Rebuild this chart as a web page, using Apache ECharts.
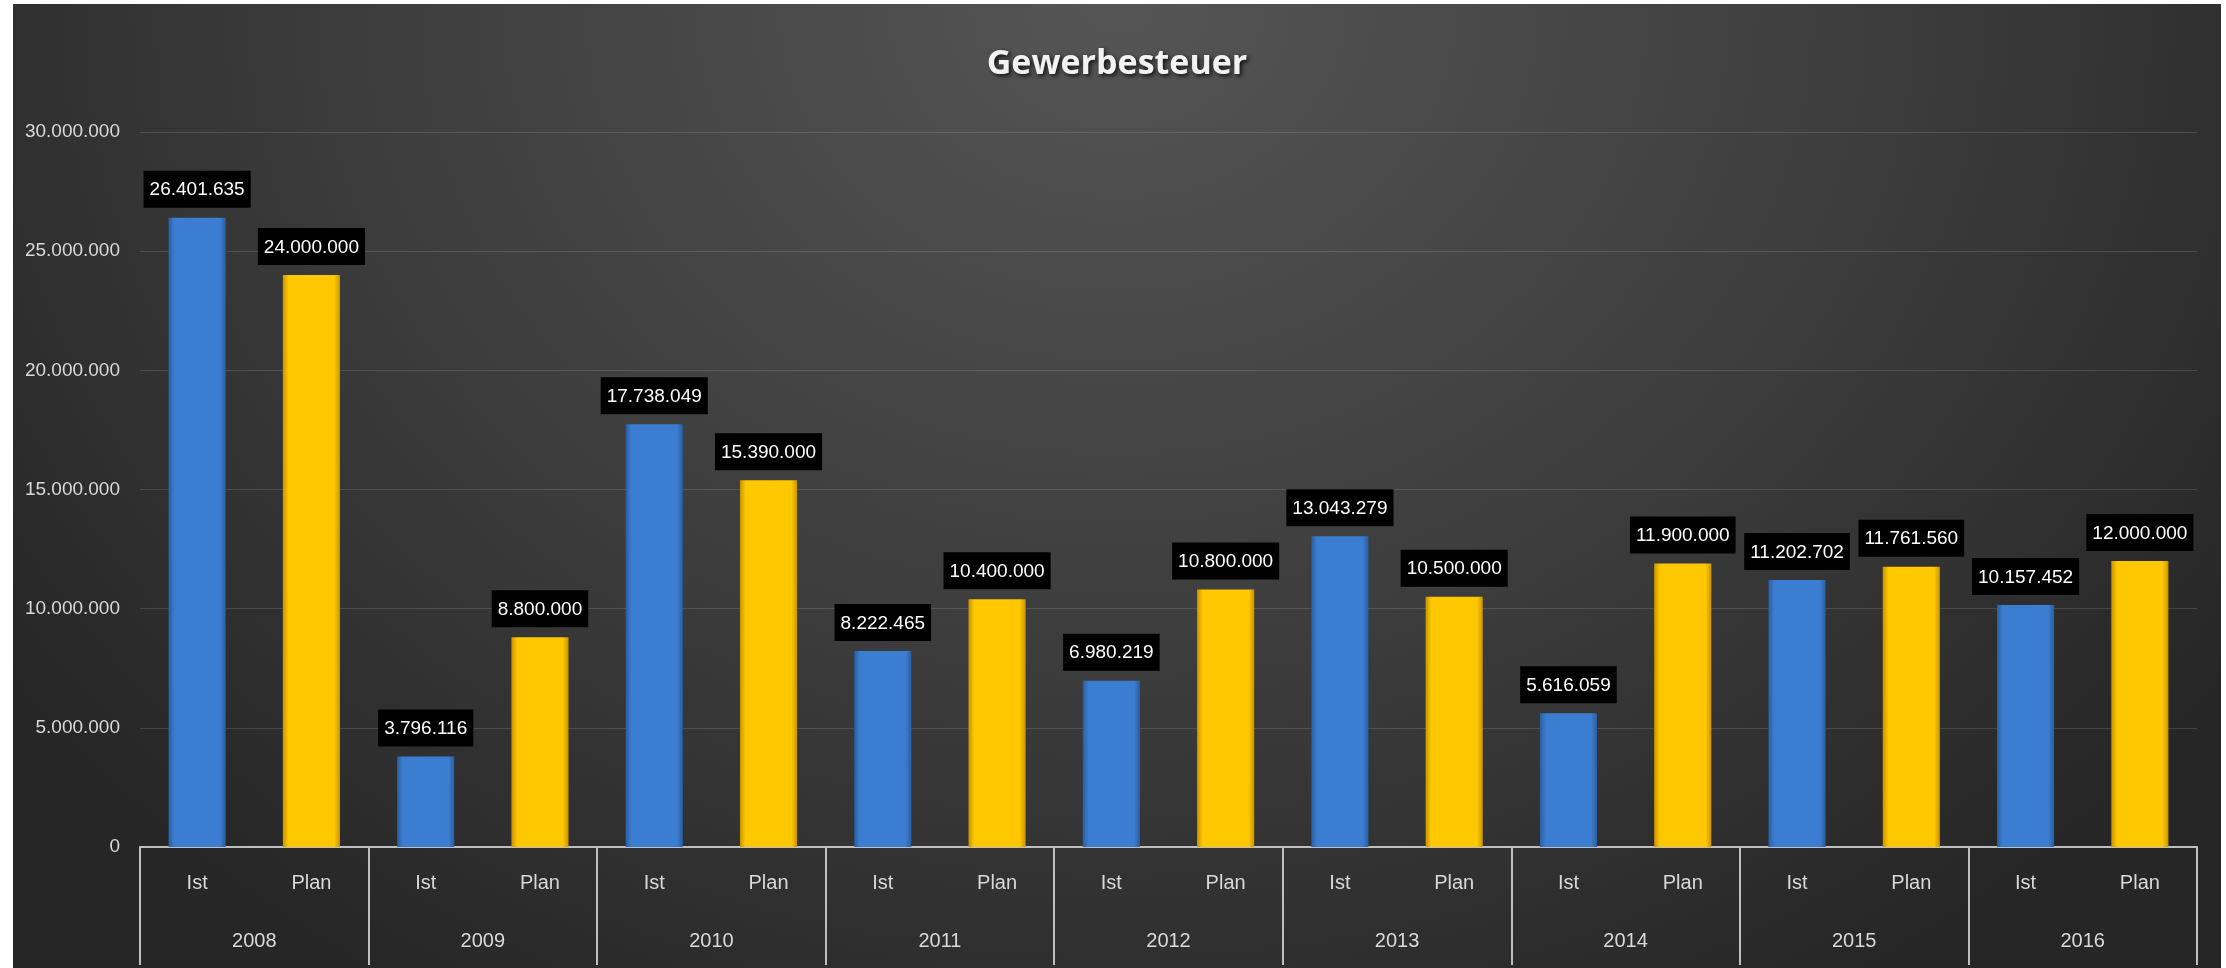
<!DOCTYPE html>
<html lang="de">
<head>
    <meta charset="utf-8"/>
    <script src="https://cdn.jsdelivr.net/npm/echarts@6.0.0/dist/echarts.min.js"></script>
    <title>Gewerbesteuer</title>
    <style>
        html, body { margin: 0; padding: 0; background: #fff; }
        #main {
            position: absolute; left: 13px; top: 4px;
            width: 2208px; height: 964px;
            background: radial-gradient(ellipse 62% 120% at 50% 0%, #555555 0%, #3d3d3d 55%, #262626 100%);
        }
    </style>
</head>
<body>
<div id="main"></div>
<script type="text/javascript">

    var years = ['2008', '2009', '2010', '2011', '2012', '2013', '2014', '2015', '2016'];
    var subCats = ['Ist', 'Plan'];
    var istValues = [26401635, 3796116, 17738049, 8222465, 6980219, 13043279, 5616059, 11202702, 10157452];
    var planValues = [24000000, 8800000, 15390000, 10400000, 10800000, 10500000, 11900000, 11761560, 12000000];

    // Ist/Plan labels under every year
    var subLabels = [];
    years.forEach(function () {
        subLabels.push(subCats[0], subCats[1]);
    });

    function fmt(v) {
        return String(Math.round(v)).replace(/\B(?=(\d{3})+(?!\d))/g, '.');
    }

    var font = 'Liberation Sans';

    function barGradient(edge, mid) {
        return {
            type: 'linear', x: 0, y: 0, x2: 1, y2: 0,
            colorStops: [
                {offset: 0, color: edge},
                {offset: 0.1, color: mid},
                {offset: 0.9, color: mid},
                {offset: 1, color: edge}
            ]
        };
    }

    var labelStyle = {
        show: true,
        position: 'top',
        distance: 10,
        color: '#ffffff',
        backgroundColor: '#000000',
        padding: [10, 6, 8, 6],
        fontSize: 19,
        fontFamily: font,
        formatter: function (p) { return fmt(p.value); }
    };

    var myChart = echarts.init(document.getElementById('main'));

    var option = {
        backgroundColor: 'transparent',
        title: {
            text: 'Gewerbesteuer',
            left: 'center',
            top: 38,
            textStyle: {
                color: '#f2f2f2',
                fontSize: 34,
                fontWeight: 'bold',
                fontFamily: 'Open Sans',
                textShadowColor: 'rgba(0,0,0,0.8)',
                textShadowBlur: 4,
                textShadowOffsetX: 2,
                textShadowOffsetY: 2
            }
        },
        grid: {
            left: 127,
            right: 24,
            top: 128,
            bottom: 121
        },
        xAxis: [
            {
                type: 'category',
                data: years,
                position: 'bottom',
                axisLine: {lineStyle: {color: '#bfbfbf', width: 2}},
                axisTick: {show: true, length: 118, alignWithLabel: false, lineStyle: {color: '#bfbfbf', width: 2}},
                axisLabel: {color: '#d9d9d9', fontSize: 20, fontFamily: font, margin: 84}
            },
            {
                type: 'category',
                data: subLabels,
                position: 'bottom',
                axisLine: {show: false},
                axisTick: {show: false},
                axisLabel: {color: '#d9d9d9', fontSize: 20, fontFamily: font, margin: 26, interval: 0}
            }
        ],
        yAxis: {
            type: 'value',
            min: 0,
            max: 30000000,
            interval: 5000000,
            axisLine: {show: false},
            axisTick: {show: false},
            axisLabel: {
                color: '#d9d9d9', fontSize: 19, fontFamily: font, margin: 20,
                formatter: function (v) { return fmt(v); }
            },
            splitLine: {lineStyle: {color: 'rgba(255,255,255,0.13)', width: 1}}
        },
        series: [
            {
                name: 'Ist',
                type: 'bar',
                xAxisIndex: 0,
                data: istValues,
                barWidth: '25%',
                barGap: '100%',
                itemStyle: {color: barGradient('#2a5d9e', '#3b7dd0')},
                label: labelStyle
            },
            {
                name: 'Plan',
                type: 'bar',
                xAxisIndex: 0,
                data: planValues,
                barWidth: '25%',
                barGap: '100%',
                itemStyle: {color: barGradient('#c99400', '#ffc800')},
                label: labelStyle
            }
        ]
    };
    myChart.setOption(option);

    window.onresize = myChart.resize;
</script>
</body>
</html>
